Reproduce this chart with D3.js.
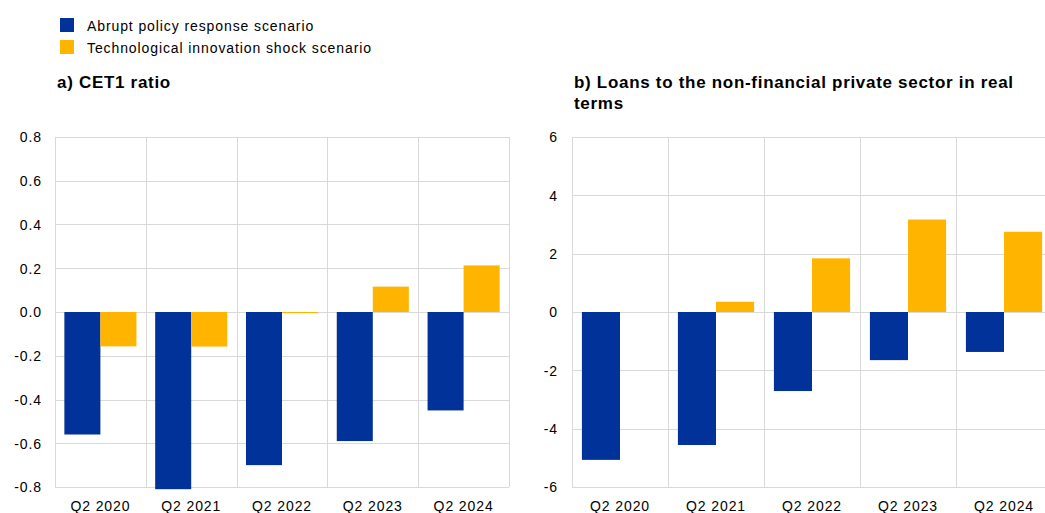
<!DOCTYPE html>
<html><head><meta charset="utf-8">
<script src="https://cdn.jsdelivr.net/npm/d3@7/dist/d3.min.js"></script>
<style>
body{margin:0;background:#fff;}
text{font-family:"Liberation Sans",Arial,sans-serif;fill:#000;}
</style></head>
<body><svg id="c" width="1045" height="513"></svg>
<script>
const categories = ["Q2 2020","Q2 2021","Q2 2022","Q2 2023","Q2 2024"];
const seriesNames = ["Abrupt policy response scenario","Technological innovation shock scenario"];
const cet1Abrupt = [-0.56,-0.81,-0.70,-0.59,-0.45];
const cet1Tech = [-0.157,-0.158,-0.005,0.116,0.213];
const loansAbrupt = [-5.07,-4.56,-2.71,-1.65,-1.37];
const loansTech = [0,0.35,1.84,3.17,2.75];
const cet1Ticks = [-0.8,-0.6,-0.4,-0.2,0,0.2,0.4,0.6,0.8];
const loansTicks = [-6,-4,-2,0,2,4,6];
const colors = ["#003299","#FFB400"];

const svg = d3.select("#c");
const LS = "0.9px";
const hy = f => (d => f(d).replace("\u2212","-"));

// legend
seriesNames.forEach((s,i)=>{
  svg.append("rect").attr("x",60).attr("y",18+i*22).attr("width",14).attr("height",14).attr("fill",colors[i]);
  svg.append("text").attr("x",87).attr("y",31+i*22).attr("font-size",14).attr("letter-spacing",LS).text(s);
});

function panel(opt){
  const g = svg.append("g");
  const y = d3.scaleLinear().domain(opt.domain).range([opt.bottom,opt.top]);
  const x = d3.scaleBand().domain(categories).range([opt.left,opt.right]).paddingInner(0).paddingOuter(0);
  const x1 = d3.scaleBand().domain([0,1]).range([0,x.bandwidth()]).paddingInner(0).paddingOuter(0.26);
  g.selectAll(".hg").data(opt.ticks).enter().append("line")
    .attr("x1",opt.left).attr("x2",opt.right)
    .attr("y1",d=>Math.round(y(d))+0.5).attr("y2",d=>Math.round(y(d))+0.5)
    .attr("stroke","#d9d9d9").attr("stroke-width",1);
  const vx = categories.map(c=>x(c)).concat([opt.right]);
  g.selectAll(".vg").data(vx).enter().append("line")
    .attr("x1",d=>Math.round(d)+0.5).attr("x2",d=>Math.round(d)+0.5)
    .attr("y1",opt.top).attr("y2",opt.bottom)
    .attr("stroke","#d9d9d9").attr("stroke-width",1);
  [opt.a,opt.b].forEach((vals,si)=>{
    g.selectAll(".b"+si).data(vals).enter().append("rect")
      .attr("x",(d,i)=>x(categories[i])+x1(si))
      .attr("width",x1.bandwidth())
      .attr("y",d=>Math.min(y(d),y(0)))
      .attr("height",d=>Math.abs(y(d)-y(0)))
      .attr("fill",colors[si]);
  });
  const ya = d3.axisLeft(y).tickValues(opt.ticks).tickSize(0).tickPadding(0).tickFormat(hy(opt.fmt));
  const yg = g.append("g").attr("transform",`translate(${opt.labelX},0)`).call(ya);
  yg.select(".domain").remove();
  yg.selectAll("text").attr("font-size",14).attr("letter-spacing",LS).attr("fill","#000").attr("dy","0.35em")
    .style("font-family",'"Liberation Sans",Arial,sans-serif');
  const xa = d3.axisBottom(x).tickSize(0).tickPadding(0);
  const xg = g.append("g").attr("transform",`translate(0,${opt.bottom})`).call(xa);
  xg.select(".domain").remove();
  xg.selectAll("text").attr("font-size",14).attr("letter-spacing",LS).attr("fill","#000").attr("dy",0).attr("y",24)
    .style("font-family",'"Liberation Sans",Arial,sans-serif');
  const t = svg.append("text").attr("x",opt.left+2).attr("y",88).attr("font-size",17).attr("font-weight","bold").attr("letter-spacing","0.7px");
  opt.title.forEach((ln,i)=>t.append("tspan").attr("x",opt.left+2).attr("dy",i===0?0:21).text(ln));
}

panel({left:55,right:509,top:137,bottom:487,domain:[-0.8,0.8],ticks:cet1Ticks,a:cet1Abrupt,b:cet1Tech,
  fmt:d3.format(".1f"),labelX:42,title:["a) CET1 ratio"]});
panel({left:572,right:1052,top:137,bottom:487,domain:[-6,6],ticks:loansTicks,a:loansAbrupt,b:loansTech,
  fmt:d3.format("d"),labelX:558,title:["b) Loans to the non-financial private sector in real","terms"]});
</script></body></html>
